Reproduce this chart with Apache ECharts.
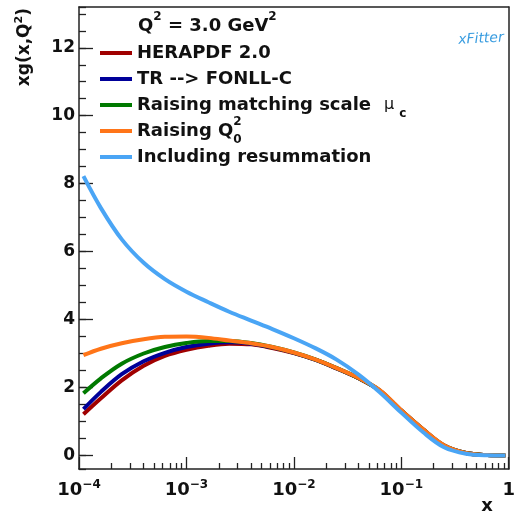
<!DOCTYPE html>
<html>
<head>
<meta charset="utf-8">
<script src="https://cdn.jsdelivr.net/npm/echarts@6.0.0/dist/echarts.min.js"></script>
<style>
html,body{margin:0;padding:0;background:#fff;}
#chart{width:518px;height:514px;}
</style>
</head>
<body>
<div id="chart"></div>
<script>
// ---- data ----
const xValues = [1.1e-4, 1.6e-4, 2.5e-4, 4e-4, 6.3e-4, 1e-3, 1.6e-3, 2.5e-3, 4e-3, 6.3e-3,
                 1e-2, 1.6e-2, 2.5e-2, 4e-2, 6.3e-2, 0.1, 0.16, 0.25, 0.4, 0.63, 0.93];
const herapdf     = [1.21, 1.68, 2.21, 2.64, 2.93, 3.11, 3.23, 3.29, 3.27, 3.16, 3.01, 2.81, 2.56, 2.27, 1.91, 1.32, 0.76, 0.29, 0.07, 0.01, 0.0];
const trFonll     = [1.36, 1.87, 2.39, 2.77, 3.02, 3.19, 3.29, 3.33, 3.29, 3.18, 3.02, 2.81, 2.56, 2.27, 1.91, 1.32, 0.76, 0.29, 0.07, 0.01, 0.0];
const raisingMuC  = [1.83, 2.27, 2.70, 3.00, 3.19, 3.31, 3.37, 3.37, 3.31, 3.19, 3.03, 2.82, 2.57, 2.28, 1.91, 1.32, 0.76, 0.29, 0.07, 0.01, 0.0];
const raisingQ0   = [2.95, 3.14, 3.30, 3.42, 3.49, 3.50, 3.46, 3.38, 3.30, 3.19, 3.03, 2.82, 2.57, 2.28, 1.92, 1.33, 0.77, 0.30, 0.07, 0.01, 0.0];
const resummation = [8.22, 7.28, 6.36, 5.67, 5.19, 4.82, 4.51, 4.23, 3.97, 3.72, 3.45, 3.15, 2.82, 2.38, 1.86, 1.26, 0.68, 0.24, 0.05, 0.005, 0.0];

const seriesNames = ['HERAPDF 2.0', 'TR --> FONLL-C', 'Raising matching scale \u03bcc', 'Raising Q02', 'Including resummation'];
const seriesValues = [herapdf, trFonll, raisingMuC, raisingQ0, resummation];
const seriesColors = ['#a00000', '#000099', '#007a00', '#ff7518', '#4aa5f5'];

const FONT = 'DejaVu Sans';
const TXT = '#111';

const legendLabels = {
  'HERAPDF 2.0': '{n|HERAPDF 2.0}',
  'TR --> FONLL-C': '{n|TR --> FONLL-C}',
  'Raising matching scale \u03bcc': '{n|Raising matching scale}{mu|\u03bc}{subc|c}',
  'Raising Q02': '{n|Raising Q}{supz|2}{sub|0}',
  'Including resummation': '{n|Including resummation}'
};

const richBase = {
  n:   {fontFamily: FONT, fontWeight: 'bold', fontSize: 18, lineHeight: 30, color: TXT, verticalAlign: 'middle'},
  sup: {fontFamily: FONT, fontWeight: 'bold', fontSize: 12, lineHeight: 18, color: TXT, verticalAlign: 'top'},
  supz:{fontFamily: FONT, fontWeight: 'bold', fontSize: 12, lineHeight: 18, color: TXT, verticalAlign: 'top', width: 0},
  sub: {fontFamily: FONT, fontWeight: 'bold', fontSize: 12, lineHeight: 6, color: TXT, verticalAlign: 'bottom'},
  subc:{fontFamily: FONT, fontWeight: 'bold', fontSize: 12, lineHeight: 6, color: TXT, verticalAlign: 'bottom', padding: [0, 0, 0, 5]},
  mu:  {fontFamily: FONT, fontWeight: 'normal', fontSize: 16, lineHeight: 30, color: TXT, verticalAlign: 'middle', padding: [0, 0, 0, 13]}
};

const chart = echarts.init(document.getElementById('chart'), null, {renderer: 'canvas'});

const series = seriesNames.map((name, i) => ({
  name: name,
  type: 'line',
  xAxisIndex: 0,
  yAxisIndex: 0,
  showSymbol: false,
  smooth: 0.35,
  lineStyle: {width: 4, color: seriesColors[i]},
  itemStyle: {color: seriesColors[i]},
  data: xValues.map((x, k) => [x, seriesValues[i][k]]),
  z: 2 + i
}));

const axisLineStyle = {color: '#222', width: 1.5};
const tickLine = {color: '#222', width: 1.3};

chart.setOption({
  animation: false,
  backgroundColor: '#fff',
  grid: {left: 79, right: 4, top: 7, bottom: 45, show: false},
  title: {
    left: 133, top: 6,
    text: '{n|Q}{sup|2}{n| = 3.0 GeV}{sup|2}',
    textStyle: {rich: richBase}
  },
  legend: {
    orient: 'vertical',
    left: 100, top: 38, padding: 0,
    itemWidth: 32, itemHeight: 4, itemGap: -4,
    icon: 'rect',
    data: seriesNames,
    formatter: name => legendLabels[name],
    textStyle: {fontFamily: FONT, fontWeight: 'bold', fontSize: 18, color: TXT, lineHeight: 30, rich: richBase}
  },
  xAxis: [
    {
      type: 'log', logBase: 10, min: 1e-4, max: 1, position: 'bottom',
      axisLine: {show: true, onZero: false, lineStyle: axisLineStyle},
      axisTick: {show: true, inside: true, length: 12, lineStyle: tickLine},
      minorTick: {show: true, splitNumber: 9, length: 6, lineStyle: tickLine},
      axisLabel: {
        margin: 10,
        formatter: v => {
          const e = Math.round(Math.log10(v));
          return e === 0 ? '{b|1}' : '{b|10}{s|\u2212' + Math.abs(e) + '}';
        },
        rich: {
          b: {fontFamily: FONT, fontWeight: 'bold', fontSize: 18, lineHeight: 22, color: TXT, verticalAlign: 'middle'},
          s: {fontFamily: FONT, fontWeight: 'bold', fontSize: 12, lineHeight: 12, color: TXT, verticalAlign: 'top'}
        }
      },
      splitLine: {show: false},
      minorSplitLine: {show: false}
    },
    {
      type: 'log', logBase: 10, min: 1e-4, max: 1, position: 'top',
      axisLine: {show: true, onZero: false, lineStyle: axisLineStyle},
      axisTick: {show: false}, axisLabel: {show: false}, splitLine: {show: false}
    }
  ],
  yAxis: [
    {
      type: 'value', position: 'left', min: -0.4, max: 13.2, splitNumber: 7,
      axisLine: {show: true, onZero: false, lineStyle: axisLineStyle},
      axisTick: {show: true, inside: true, length: 14, lineStyle: tickLine},
      axisLabel: {
        margin: 4, showMinLabel: false, showMaxLabel: false,
        fontFamily: FONT, fontWeight: 'bold', fontSize: 17, color: TXT,
        formatter: v => (Math.abs(v - Math.round(v / 2) * 2) < 1e-6 ? String(Math.round(v)) : '')
      },
      splitLine: {show: false}
    },
    {
      type: 'value', position: 'left', min: -0.4, max: 13.2, splitNumber: 27,
      axisLine: {show: false, onZero: false},
      axisTick: {show: true, inside: true, length: 7, lineStyle: tickLine},
      axisLabel: {show: false},
      splitLine: {show: false}
    },
    {
      type: 'value', position: 'right', min: -0.4, max: 13.2,
      axisLine: {show: true, onZero: false, lineStyle: axisLineStyle},
      axisTick: {show: false}, axisLabel: {show: false}, splitLine: {show: false}
    }
  ],
  graphic: [
    {
      type: 'text', x: 25, y: 8, rotation: Math.PI / 2,
      style: {
        text: '{n|xg(x,Q}{sup|2}{n|)}',
        align: 'right', verticalAlign: 'middle',
        rich: {
          n: {fontFamily: FONT, fontWeight: 'bold', fontSize: 17, lineHeight: 22, fill: TXT, verticalAlign: 'middle'},
          sup: {fontFamily: FONT, fontWeight: 'bold', fontSize: 11, lineHeight: 12, fill: TXT, verticalAlign: 'top'}
        }
      }
    },
    {
      type: 'text', x: 487, y: 506,
      style: {text: 'x', fontFamily: FONT, fontWeight: 'bold', fontSize: 18, fill: TXT, align: 'center', verticalAlign: 'middle'}
    },
    {
      type: 'text', x: 481, y: 39, rotation: 0.05,
      style: {text: 'xFitter', fontFamily: FONT, fontStyle: 'italic', fontSize: 14, fill: '#3a9de0', align: 'center', verticalAlign: 'middle'}
    }
  ],
  series: series
});
</script>
</body>
</html>
